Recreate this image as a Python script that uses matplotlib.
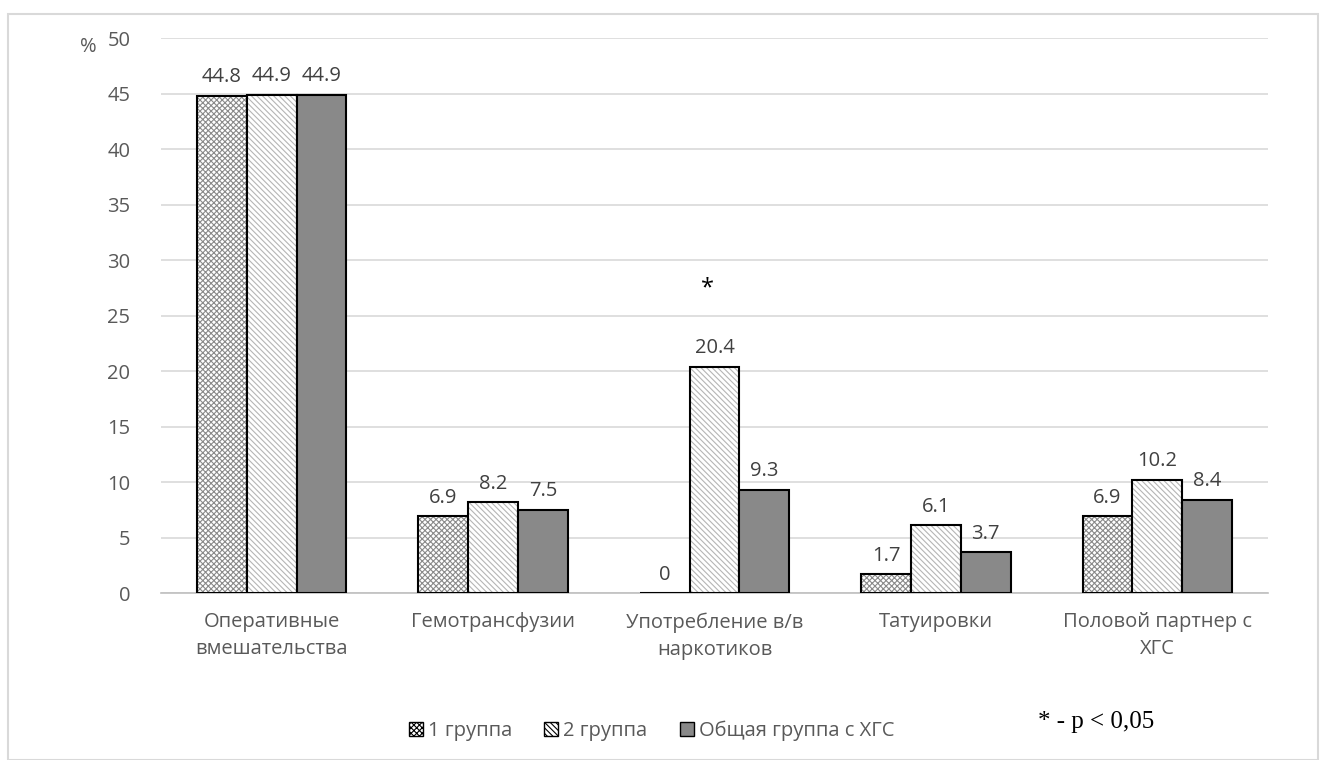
import matplotlib
matplotlib.use("Agg")
import matplotlib.pyplot as plt
from matplotlib.patches import Rectangle, Patch
import numpy as np

categories = ["Оперативные\nвмешательства", "Гемотрансфузии", "Употребление в/в\nнаркотиков",
              "Татуировки", "Половой партнер с\nХГС"]
group1 = [44.8, 6.9, 0, 1.7, 6.9]
group2 = [44.9, 8.2, 20.4, 6.1, 10.2]
group_all = [44.9, 7.5, 9.3, 3.7, 8.4]
series_names = ["1 группа", "2 группа", "Общая группа с ХГС"]
yticks = list(range(0, 51, 5))

plt.rcParams['font.family'] = ['Open Sans', 'DejaVu Sans']
plt.rcParams['hatch.linewidth'] = 0.8
txt = "#595959"
fs = 14.5

fig = plt.figure(figsize=(13.24, 7.6), dpi=100)
ax = fig.add_axes([0.1216, 0.2197, 0.8361, 0.7303])

x = np.arange(len(categories))
w = 0.225
styles = [
    dict(facecolor="white", hatch="xxxxxx", hatch_color="#8a8a8a"),
    dict(facecolor="white", hatch="\\\\\\\\\\\\", hatch_color="#b5b5b5"),
    dict(facecolor="#898989", hatch=None, hatch_color=None),
]
data = [group1, group2, group_all]
for i, (vals, st) in enumerate(zip(data, styles)):
    bars = ax.bar(x + (i - 1) * w, vals, w, facecolor=st["facecolor"], edgecolor="black",
                  linewidth=1.5, hatch=st["hatch"], zorder=3, label=series_names[i])
    if st["hatch_color"]:
        for b in bars:
            b._hatch_color = matplotlib.colors.to_rgba(st["hatch_color"])
    labels = [("0" if v == 0 else f"{v}") for v in vals]
    ax.bar_label(bars, labels=labels, padding=6, fontsize=fs, color="#404040")

ax.set_xlim(-0.5, len(categories) - 0.5)
ax.set_ylim(0, 50)
ax.set_yticks(yticks)
ax.grid(axis="y", color="#d9d9d9", linewidth=1.2, zorder=0)
for s in ["top", "right", "left"]:
    ax.spines[s].set_visible(False)
ax.spines["bottom"].set_color("#bfbfbf")
ax.spines["bottom"].set_linewidth(1.2)
ax.tick_params(axis="both", length=0, labelsize=fs, colors=txt, pad=22)
ax.tick_params(axis="x", pad=14)
ax.set_xticks(x)
ax.set_xticklabels(categories, linespacing=1.45)

ax.text(-0.83, 49.2, "%", fontsize=fs, color=txt, ha="center", va="center")
ax.text(2 - 0.03, 27.4, "*", fontsize=17, color="black", ha="center", va="center")

handles = [Patch(facecolor=st["facecolor"], edgecolor="black", hatch=st["hatch"], label=n)
           for st, n in zip(styles, series_names)]
leg = fig.legend(handles=handles, loc="center", bbox_to_anchor=(0.492, 0.038), ncol=3,
                 frameon=False, fontsize=fs, handlelength=0.7, handleheight=0.7,
                 handletextpad=0.25, columnspacing=1.6)
for t in leg.get_texts():
    t.set_color(txt)

fig.text(1038 / 1324, 1 - 722 / 760, "* - p < 0,05", fontsize=18, family="Liberation Serif",
         color="black", ha="left", va="center")

fig.patches.append(Rectangle((8 / 1324, 0), 1 - 14 / 1324, 1 - 14 / 760, transform=fig.transFigure,
                             fill=False, edgecolor="#d9d9d9", linewidth=1.5))

fig.savefig("out.png", dpi=100)
